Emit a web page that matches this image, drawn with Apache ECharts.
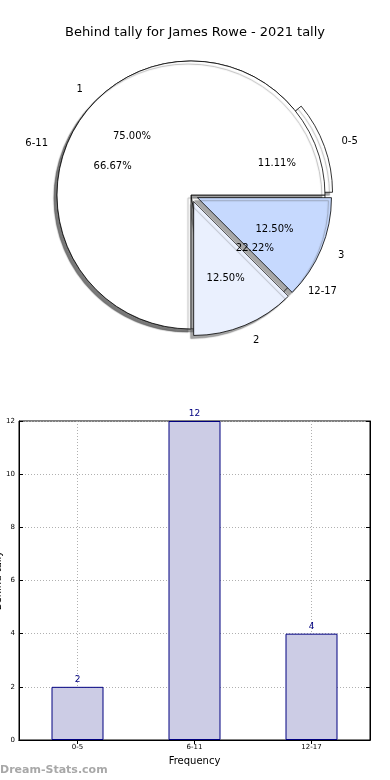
<!DOCTYPE html>
<html><head><meta charset="utf-8">
<script src="https://cdn.jsdelivr.net/npm/echarts@6/dist/echarts.min.js"></script>
<style>html,body{margin:0;padding:0;background:#fff}#c{width:390px;height:780px}</style>
</head><body><div id="c"></div>
<script>
const titleText = 'Behind tally for James Rowe - 2021 tally';
const rangeNames = ['0-5', '6-11', '12-17'];
const rangeValues = [2, 12, 4];
const rangeExploded = [true, false, false];
const tallyNames = ['1', '2', '3'];
const tallyValues = [6, 1, 1];
const tallyExploded = [false, true, true];
const rangeColors = ['#ffffff', '#ffffff', '#ffffff'];
const tallyColors = ['#ffffff', '#eaf0fe', '#c6d9fe'];
const barCategories = ['0-5', '6-11', '12-17'];
const barValues = [2, 12, 4];
const yAxisName = 'Behind tally';
const xAxisName = 'Frequency';
const watermark = 'Dream-Stats.com';

const FONT = 'DejaVu Sans';
const C = [191, 195];
const R = 134;
const shadow = {shadowColor: 'rgba(77,77,77,0.5)', shadowBlur: 1, shadowOffsetX: -3, shadowOffsetY: 3};

function visiblePie(names, values, colors, exploded, offset) {
  const st = Object.assign({borderColor: '#000', borderWidth: 0.8}, shadow);
  return {
    type: 'pie', center: C, radius: R, startAngle: 0, clockwise: false,
    selectedMode: 'multiple', selectedOffset: offset, avoidLabelOverlap: false,
    animation: false, silent: true,
    itemStyle: st,
    label: {position: 'outside', fontSize: 10, color: '#000', fontFamily: FONT, distanceToLabelLine: 2},
    labelLine: {show: false, length: 16, length2: 0},
    emphasis: {disabled: true},
    select: {itemStyle: st},
    data: names.map((n, i) => ({name: n, value: values[i], selected: exploded[i],
      itemStyle: {color: colors[i]}, select: {itemStyle: {color: colors[i]}}}))
  };
}
function pctPie(names, values, exploded, offset) {
  const st = {color: 'transparent', borderWidth: 0};
  return {
    type: 'pie', center: C, radius: [R * 0.2, R], startAngle: 0, clockwise: false,
    selectedMode: 'multiple', selectedOffset: offset, avoidLabelOverlap: false,
    animation: false, silent: true,
    itemStyle: st, select: {itemStyle: st},
    label: {position: 'inside', fontSize: 10, color: '#000', fontFamily: FONT,
      formatter: p => p.percent.toFixed(2) + '%'},
    labelLine: {show: false},
    emphasis: {disabled: true},
    data: names.map((n, i) => ({name: n, value: values[i], selected: exploded[i]}))
  };
}

const chart = echarts.init(document.getElementById('c'), null, {renderer: 'canvas'});
const tickStyle = {show: true, inside: true, length: 4, lineStyle: {color: '#000'}};
const gridLine = {show: true, lineStyle: {color: '#b0b0b0', type: [1, 2], width: 1}};
chart.setOption({
  animation: false,
  backgroundColor: '#fff',
  textStyle: {fontFamily: FONT},
  title: {text: titleText, left: 'center', top: 21,
    textStyle: {fontFamily: FONT, fontSize: 13, fontWeight: 'normal', color: '#000'}},
  graphic: [{type: 'text', left: 0, top: 765,
    style: {text: watermark, fontFamily: FONT, fontSize: 11, fill: '#a8a8a8', fontWeight: 'bold'}}],
  grid: {left: 19, right: 20, top: 421, bottom: 40, show: true, borderColor: '#000', borderWidth: 1,
    containLabel: false, outerBoundsMode: 'none'},
  xAxis: [{
    type: 'category', data: barCategories, position: 'bottom',
    axisLine: {lineStyle: {color: '#000'}},
    axisTick: Object.assign({alignWithLabel: true}, tickStyle),
    axisLabel: {fontSize: 7, color: '#000', margin: 4, fontFamily: FONT},
    splitLine: Object.assign({alignWithLabel: true}, gridLine),
    name: xAxisName, nameLocation: 'middle', nameGap: 16,
    nameTextStyle: {fontSize: 10, color: '#000', fontFamily: FONT}
  }, {
    type: 'category', data: barCategories, position: 'top',
    axisLine: {lineStyle: {color: '#000'}},
    axisTick: Object.assign({alignWithLabel: true}, tickStyle),
    axisLabel: {show: false}, splitLine: {show: false}
  }],
  yAxis: [{
    type: 'value', min: 0, max: 12, interval: 2, position: 'left',
    axisLine: {show: true, lineStyle: {color: '#000'}},
    axisTick: tickStyle,
    axisLabel: {fontSize: 7, color: '#000', margin: 4, fontFamily: FONT},
    splitLine: gridLine,
    name: yAxisName, nameLocation: 'middle', nameGap: 16, nameRotate: 90, nameMoveOverlap: false,
    nameTextStyle: {fontSize: 10, color: '#000', fontFamily: FONT}
  }, {
    type: 'value', min: 0, max: 12, interval: 2, position: 'right',
    axisLine: {show: true, lineStyle: {color: '#000'}},
    axisTick: tickStyle, axisLabel: {show: false}, splitLine: {show: false}
  }],
  series: [
    visiblePie(rangeNames, rangeValues, rangeColors, rangeExploded, 8),
    visiblePie(tallyNames, tallyValues, tallyColors, tallyExploded, 7),
    pctPie(rangeNames, rangeValues, rangeExploded, 8),
    pctPie(tallyNames, tallyValues, tallyExploded, 7),
    {
      type: 'bar', data: barValues, barWidth: 52, xAxisIndex: 0, yAxisIndex: 0,
      itemStyle: {color: '#ccccE5', borderColor: '#000080', borderWidth: 1},
      label: {show: true, position: 'top', color: '#000080', fontSize: 9, distance: 3, fontFamily: FONT},
      emphasis: {disabled: true}, silent: true
    }
  ]
});
</script>
</body></html>
